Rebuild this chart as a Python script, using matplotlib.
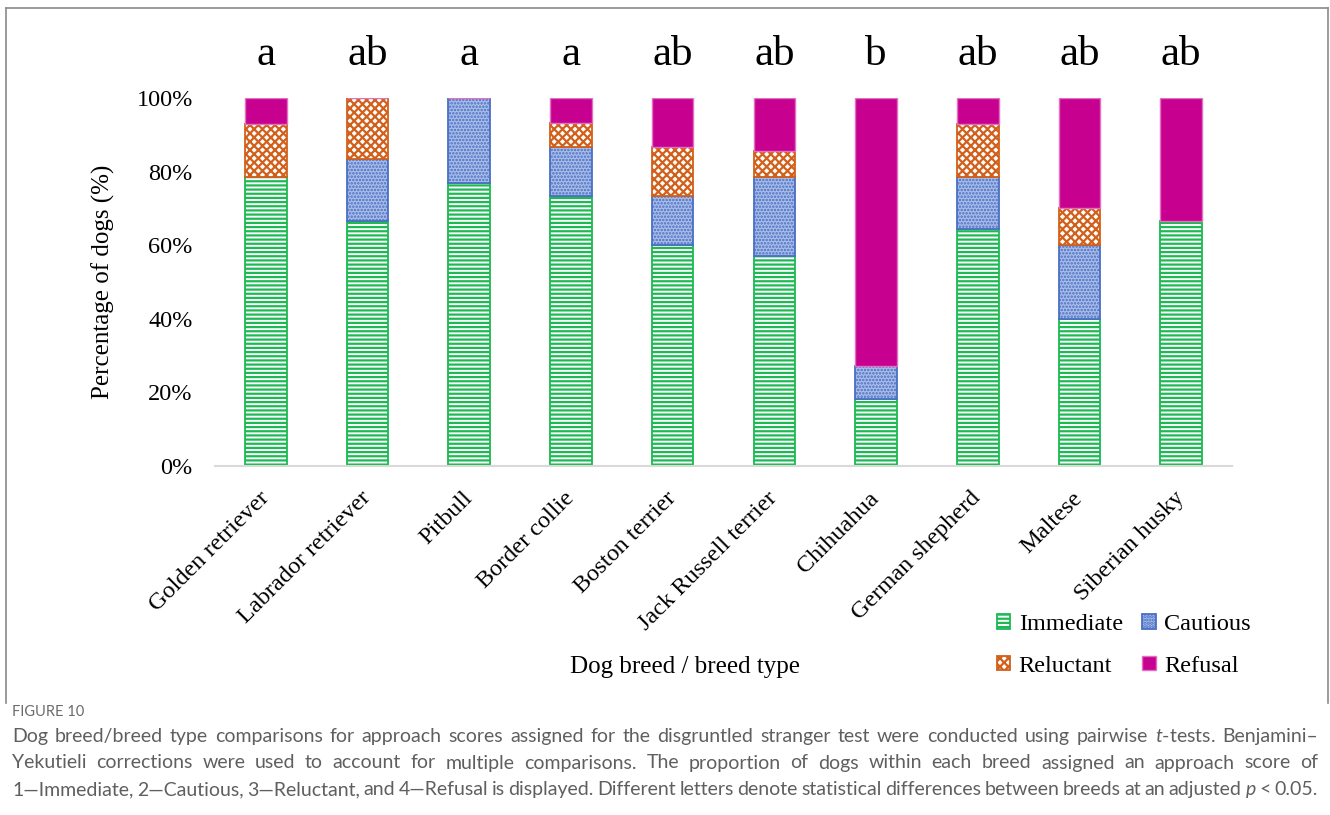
import numpy as np
import matplotlib.pyplot as plt
from matplotlib.lines import Line2D

breeds = ['Golden retriever', 'Labrador retriever', 'Pitbull', 'Border collie',
          'Boston terrier', 'Jack Russell terrier', 'Chihuahua', 'German shepherd',
          'Maltese', 'Siberian husky']
letters = ['a', 'ab', 'a', 'a', 'ab', 'ab', 'b', 'ab', 'ab', 'ab']

# percentage of dogs per approach score
immediate = [78.6, 66.7, 76.9, 73.3, 60.0, 57.1, 18.2, 64.3, 40.0, 66.7]
cautious = [0.0, 16.7, 23.1, 13.3, 13.3, 21.4, 9.1, 14.3, 20.0, 0.0]
reluctant = [14.3, 16.7, 0.0, 6.7, 13.3, 7.1, 0.0, 14.3, 10.0, 0.0]
refusal = [7.1, 0.0, 0.0, 6.7, 13.3, 14.3, 72.7, 7.1, 30.0, 33.3]

caption_title = 'FIGURE 10'
caption_lines = [
    'Dog breed/breed type comparisons for approach scores assigned for the disgruntled stranger test were conducted using pairwise $\\it{t}$-tests. Benjamini\u2013',
    'Yekutieli corrections were used to account for multiple comparisons. The proportion of dogs within each breed assigned an approach score of',
    '1\u2014Immediate, 2\u2014Cautious, 3\u2014Reluctant, and 4\u2014Refusal is displayed. Different letters denote statistical differences between breeds at an adjusted $\\it{p}$ < 0.05.',
]

plt.rcParams['font.family'] = 'Liberation Serif'
plt.rcParams['mathtext.fontset'] = 'custom'
plt.rcParams['mathtext.it'] = 'Lato:italic'
plt.rcParams['mathtext.rm'] = 'Lato'

fig = plt.figure(figsize=(13.3, 8.15), dpi=100)
ax = fig.add_axes([215 / 1330, 1 - 466 / 815, 1017 / 1330, 368 / 815])

x = np.arange(len(breeds))
w = 0.41
imm = np.array(immediate)
cau = np.array(cautious)
rel = np.array(reluctant)
ref = np.array(refusal)

plt.rcParams['hatch.linewidth'] = 1.6
b1 = ax.bar(x, imm, w, color='white', edgecolor='#1db954', hatch='----', linewidth=1.3, label='Immediate')
plt.rcParams['hatch.linewidth'] = 1.2
b2 = ax.bar(x, cau, w, bottom=imm, color='#a9bde8', edgecolor='#4a6fc4', hatch='.....', linewidth=1.3, label='Cautious')
plt.rcParams['hatch.linewidth'] = 1.6
b3 = ax.bar(x, rel, w, bottom=imm + cau, color='white', edgecolor='#d2601a', hatch='xxxx', linewidth=1.3, label='Reluctant')
b4 = ax.bar(x, ref, w, bottom=imm + cau + rel, color='#c8008f', edgecolor='#e070c0', linewidth=1.0, label='Refusal')

for xi, lt in zip(x, letters):
    ax.text(xi, 109, lt, ha='center', va='baseline', fontsize=31, clip_on=False)

ax.set_xlim(-0.5, len(breeds) - 0.5)
ax.set_ylim(0, 100)
ax.set_yticks([0, 20, 40, 60, 80, 100])
ax.set_yticklabels(['0%', '20%', '40%', '60%', '80%', '100%'])
ax.set_xticks(x)
ax.set_xticklabels(breeds, rotation=45, ha='right', rotation_mode='anchor', va='center')
ax.tick_params(axis='y', length=0, pad=16, labelsize=17.5)
ax.tick_params(axis='x', length=0, pad=21, labelsize=17.5)
for s in ['top', 'right', 'left']:
    ax.spines[s].set_visible(False)
ax.spines['bottom'].set_color('#d9d9d9')
ax.spines['bottom'].set_linewidth(1.5)

ax.set_ylabel('Percentage of dogs (%)', fontsize=18)
ax.yaxis.set_label_coords(-0.098, 0.5)
ax.set_xlabel('Dog breed / breed type', fontsize=18)
ax.xaxis.set_label_coords(0.462, -0.515)

ax.legend([b1, b3, b2, b4], ['Immediate', 'Reluctant', 'Cautious', 'Refusal'], ncol=2,
          frameon=False, fontsize=17.5,
          handlelength=0.55, handleheight=0.55, handletextpad=0.35,
          columnspacing=0.8, labelspacing=0.85, loc='upper left',
          bbox_to_anchor=(975 / 1330, 1 - 592 / 815), bbox_transform=fig.transFigure)

# frame round the figure panel
for xs, ys in [((6, 6), (703, 8)), ((6, 1328), (8, 8)), ((1328, 1328), (8, 703))]:
    fig.add_artist(Line2D([v / 1330 for v in xs], [1 - v / 815 for v in ys],
                          color='#8a8a8a', lw=1.2))

fig.text(12 / 1330, 1 - 716 / 815, caption_title, fontsize=10.5, color='#6b6b6b',
         fontfamily='Lato', va='baseline')

# justified caption lines
renderer = fig.canvas.get_renderer()
left, right = 12, 1318
for i, line in enumerate(caption_lines):
    yy = 1 - (742 + 26.5 * i) / 815
    words = line.split(' ')
    objs = [fig.text(0, yy, wd, fontsize=14.0, color='#5f5f5f', fontfamily='Lato', va='baseline')
            for wd in words]
    widths = [o.get_window_extent(renderer).width for o in objs]
    gap = (right - left - sum(widths)) / (len(objs) - 1)
    pos = left
    for o, wdt in zip(objs, widths):
        o.set_x(pos / 1330)
        pos += wdt + gap

fig.savefig('out.png', dpi=100)
